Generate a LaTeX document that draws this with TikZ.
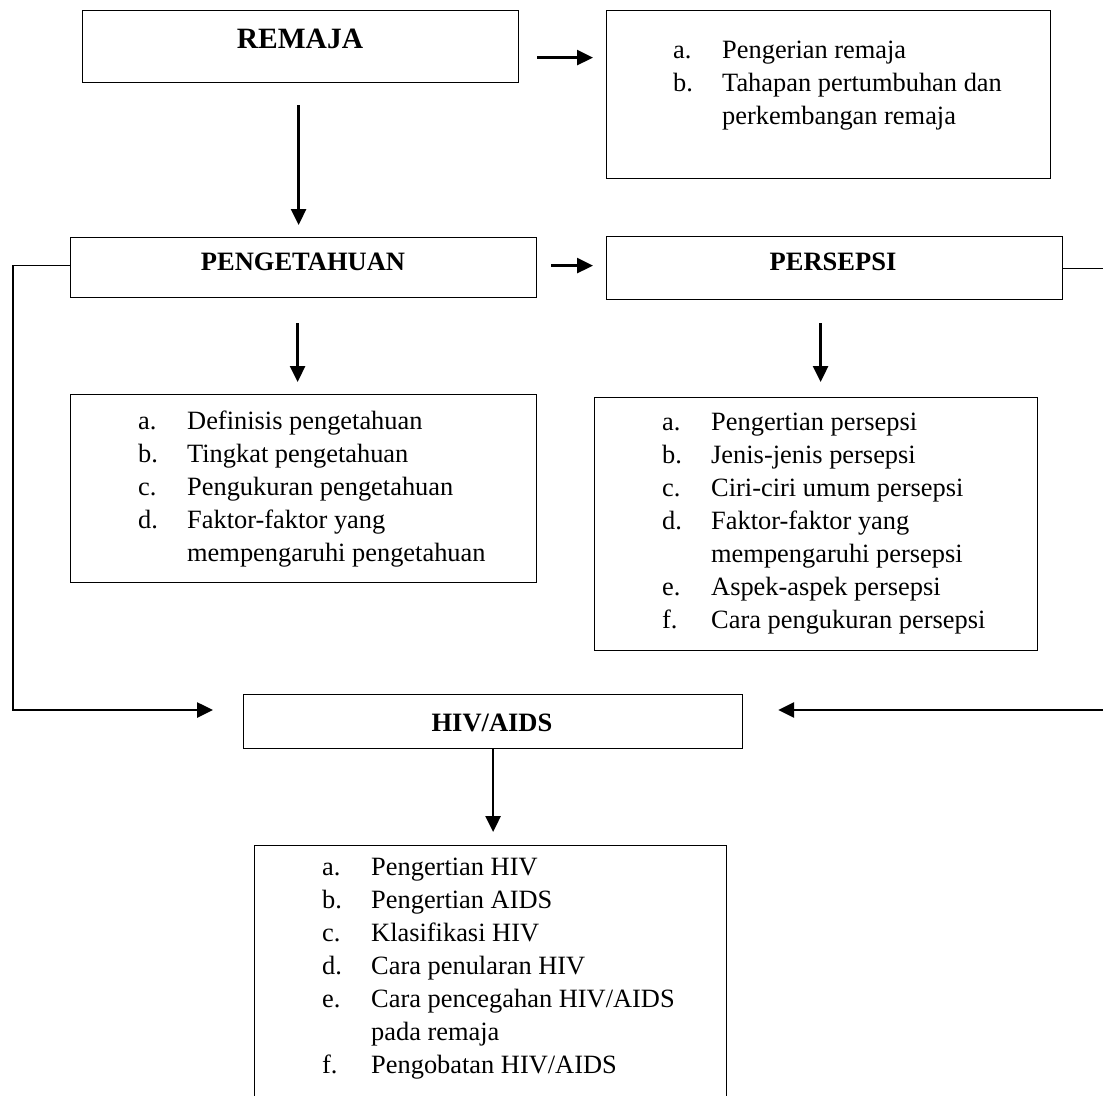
\documentclass[tikz,border=0pt]{standalone}
\usepackage{fontspec}
\setmainfont{Liberation Serif}
\usetikzlibrary{arrows.meta,calc}
\newcommand{\itm}[2]{\makebox[49pt][l]{#1}#2}
\begin{document}
\begin{tikzpicture}[x=1pt,y=-1pt,
  box/.style={draw=black, line width=1.2pt, rectangle, inner sep=0pt, anchor=north west},
  head/.style={font=\fontsize{26.5}{30}\selectfont\bfseries, anchor=base, inner sep=0pt},
  list/.style={font=\fontsize{26.4}{33}\selectfont, anchor=base west, inner sep=0pt},
  arr/.style={line width=2.6pt, -{Triangle[length=16pt,width=15pt]}},
  thinline/.style={line width=1.2pt}]
\useasboundingbox (0,0) rectangle (1103,1095);

% boxes
\node[box, minimum width=436pt, minimum height=72pt] (remaja) at (82,10) {};
\node[box, minimum width=444pt, minimum height=168pt] (remList) at (606,10) {};
\node[box, minimum width=466pt, minimum height=60pt] (peng) at (70,237) {};
\node[box, minimum width=456pt, minimum height=63pt] (pers) at (606,236) {};
\node[box, minimum width=466pt, minimum height=188pt] (pengList) at (70,394) {};
\node[box, minimum width=443pt, minimum height=253pt] (persList) at (594,397) {};
\node[box, minimum width=499pt, minimum height=54pt] (hiv) at (243,694) {};
\node[box, minimum width=472pt, minimum height=260pt] (hivList) at (254,845) {};

% headings
\node[head, font=\fontsize{29.5}{32}\selectfont\bfseries] (remajaT) at (300,48) {REMAJA};
\node[head] (pengT) at (303,270) {PENGETAHUAN};
\node[head] (persT) at (833,270) {PERSEPSI};
\node[head] (hivT) at (492,731) {HIV/AIDS};

% lists
\node[list] (remItems) at (673,58) {\begin{tabular}[t]{@{}l@{}}
\itm{a.}{Pengerian remaja}\\
\itm{b.}{Tahapan pertumbuhan dan}\\
\itm{}{perkembangan remaja}
\end{tabular}};
\node[list] (pengItems) at (138,429) {\begin{tabular}[t]{@{}l@{}}
\itm{a.}{Definisis pengetahuan}\\
\itm{b.}{Tingkat pengetahuan}\\
\itm{c.}{Pengukuran pengetahuan}\\
\itm{d.}{Faktor-faktor yang}\\
\itm{}{mempengaruhi pengetahuan}
\end{tabular}};
\node[list] (persItems) at (662,430) {\begin{tabular}[t]{@{}l@{}}
\itm{a.}{Pengertian persepsi}\\
\itm{b.}{Jenis-jenis persepsi}\\
\itm{c.}{Ciri-ciri umum persepsi}\\
\itm{d.}{Faktor-faktor yang}\\
\itm{}{mempengaruhi persepsi}\\
\itm{e.}{Aspek-aspek persepsi}\\
\itm{f.}{Cara pengukuran persepsi}
\end{tabular}};
\node[list] (hivItems) at (322,875) {\begin{tabular}[t]{@{}l@{}}
\itm{a.}{Pengertian HIV}\\
\itm{b.}{Pengertian AIDS}\\
\itm{c.}{Klasifikasi HIV}\\
\itm{d.}{Cara penularan HIV}\\
\itm{e.}{Cara pencegahan HIV/AIDS}\\
\itm{}{pada remaja}\\
\itm{f.}{Pengobatan HIV/AIDS}
\end{tabular}};

% connectors
\draw[arr, shorten <=18pt, shorten >=13pt] ([yshift=-11pt]remaja.east) -- ([yshift=-11pt]remaja.east -| remList.west);
\draw[arr, shorten <=22pt, shorten >=12pt] ([xshift=-2pt]remaja.south) -- ([xshift=-2pt]remaja.south |- peng.north);
\draw[arr, shorten <=14pt, shorten >=13pt] ([yshift=2pt]peng.east) -- ([yshift=2pt]peng.east -| pers.west);
\draw[arr, shorten <=25pt, shorten >=12pt] ([xshift=-6pt]peng.south) -- ([xshift=-6pt]peng.south |- pengList.north);
\draw[arr, shorten <=23pt, shorten >=15pt] ([xshift=-14pt]pers.south) -- ([xshift=-14pt]pers.south |- persList.north);

\coordinate (lc) at (13,710);
\coordinate (rc) at (1106,710);
\draw[thinline] ([yshift=2pt]peng.west) -| (lc);
\draw[arr, shorten >=30pt] ([xshift=-0.6pt]lc) -- (lc -| hiv.west);
\draw[thinline] (pers.east) -| (rc);
\draw[arr, shorten >=35pt] (rc) -- (rc -| hiv.east);
\draw[arr, shorten >=13pt] (hiv.south) -- (hiv.south |- hivList.north);
\end{tikzpicture}
\end{document}
